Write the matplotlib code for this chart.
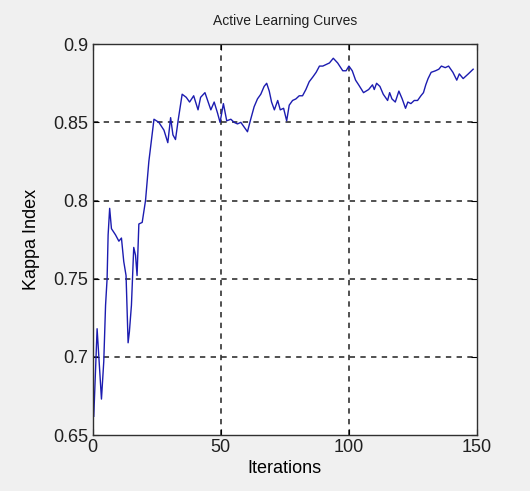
import matplotlib
matplotlib.use("Agg")
import matplotlib.pyplot as plt

plt.rcParams['font.family'] = ['Liberation Sans', 'DejaVu Sans']
plt.rcParams['text.color'] = '#202020'
plt.rcParams['xtick.labelcolor'] = '#202020'
plt.rcParams['ytick.labelcolor'] = '#202020'

# Kappa index readings (iteration, value)
iterations = [0.4, 1.7, 3.4, 4.3, 5.0, 5.6, 6.0, 6.6, 7.3, 8.9, 10.2, 11.2, 12.1,
              13.0, 13.8, 14.3, 15.1, 16.0, 16.7, 17.3, 18.0, 19.3, 20.6, 21.9,
              23.9, 25.8, 27.8, 29.3, 30.4, 31.3, 32.3, 33.4, 34.9, 36.5, 37.8,
              39.4, 41.1, 42.1, 43.8, 46.1, 47.4, 48.7, 49.7, 51.0, 52.3, 53.9,
              55.2, 56.5, 57.8, 59.1, 60.4, 61.5, 63.0, 64.3, 65.6, 66.9, 67.9,
              68.9, 69.8, 70.9, 72.2, 73.2, 74.5, 75.7, 76.7, 78.0, 79.3, 80.6,
              81.9, 83.2, 84.5, 85.9, 87.2, 88.5, 89.8, 91.1, 92.4, 93.9, 95.6,
              97.6, 98.9, 100.0, 101.3, 102.6, 103.8, 105.7, 107.7, 109.2, 109.9,
              110.8, 112.1, 113.4, 115.1, 115.9, 116.8, 118.1, 119.5, 120.8,
              122.1, 123.0, 124.2, 125.5, 126.8, 128.1, 129.1, 130.0, 130.9,
              132.1, 133.8, 135.1, 136.1, 137.6, 138.9, 140.6, 142.1, 143.1,
              144.6, 146.6, 148.5]
kappa = [0.662, 0.718, 0.673, 0.697, 0.733, 0.750, 0.778, 0.795, 0.782, 0.778,
         0.774, 0.776, 0.761, 0.752, 0.709, 0.716, 0.733, 0.770, 0.765, 0.752,
         0.785, 0.786, 0.800, 0.825, 0.852, 0.850, 0.845, 0.837, 0.853, 0.842,
         0.839, 0.852, 0.868, 0.866, 0.863, 0.867, 0.858, 0.866, 0.869, 0.858,
         0.863, 0.856, 0.850, 0.862, 0.851, 0.852, 0.850, 0.849, 0.850, 0.847,
         0.844, 0.851, 0.860, 0.865, 0.868, 0.873, 0.875, 0.870, 0.863, 0.858,
         0.864, 0.858, 0.859, 0.851, 0.861, 0.864, 0.865, 0.867, 0.867, 0.871,
         0.876, 0.879, 0.882, 0.886, 0.886, 0.887, 0.888, 0.891, 0.888, 0.883,
         0.883, 0.886, 0.883, 0.877, 0.874, 0.869, 0.871, 0.874, 0.871, 0.875,
         0.873, 0.868, 0.864, 0.869, 0.865, 0.863, 0.870, 0.865, 0.859, 0.863,
         0.862, 0.864, 0.864, 0.867, 0.869, 0.874, 0.878, 0.882, 0.883, 0.884,
         0.886, 0.885, 0.886, 0.882, 0.877, 0.881, 0.878, 0.881, 0.884]

xticks = [0, 50, 100, 150]
yticks = [0.65, 0.7, 0.75, 0.8, 0.85, 0.9]
ytick_labels = ['0.65', '0.7', '0.75', '0.8', '0.85', '0.9']

fig = plt.figure(figsize=(5.3, 4.91), dpi=100, facecolor='#f0f0f0')
ax = fig.add_axes([0.175, 0.114, 0.725, 0.796])
ax.plot(iterations, kappa, color='#1c1cb0', linewidth=1.0)

ax.set_xlim(0, 150)
ax.set_ylim(0.65, 0.9)
ax.set_xticks(xticks)
ax.set_yticks(yticks)
ax.set_yticklabels(ytick_labels)
ax.tick_params(direction='in', top=True, right=True, labelsize=13, length=4,
               pad=3)
ax.grid(True, color='#202020', linestyle=(0, (3.5, 3.5)), linewidth=1.1)

# no grid lines on top of the box edges
for loc, gl in zip(xticks, ax.get_xgridlines()):
    if loc in ax.get_xlim():
        gl.set_visible(False)
for loc, gl in zip(yticks, ax.get_ygridlines()):
    if loc in ax.get_ylim():
        gl.set_visible(False)

for s in ax.spines.values():
    s.set_linewidth(1.0)
    s.set_color('#303030')

ax.set_xlabel('Iterations', fontsize=13, labelpad=3)
ax.set_ylabel('Kappa Index', fontsize=13, labelpad=10)
ax.set_title('Active Learning Curves', fontsize=10, pad=14)

fig.savefig('out.png', dpi=100, facecolor=fig.get_facecolor())
